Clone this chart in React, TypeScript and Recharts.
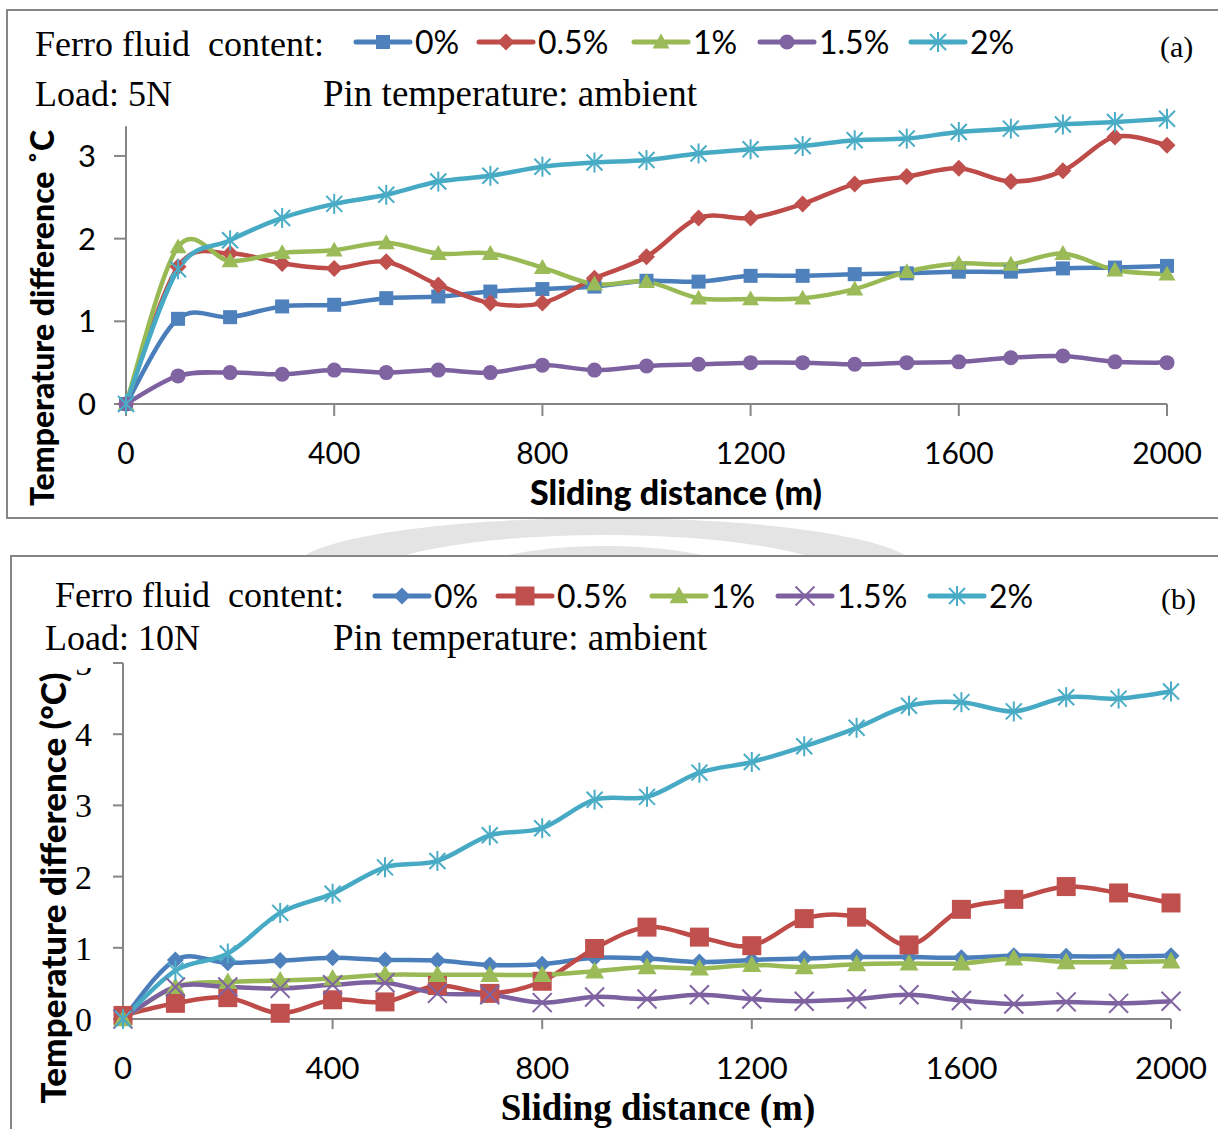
import React from 'react';
import { LineChart, Line, XAxis, YAxis, ReferenceLine } from 'recharts';

// ---------- data ----------
const distance = [0, 100, 200, 300, 400, 500, 600, 700, 800, 900, 1000, 1100, 1200, 1300, 1400, 1500, 1600, 1700, 1800, 1900, 2000];
const xTickValues = [0, 400, 800, 1200, 1600, 2000];
const yTicksA = [0, 1, 2, 3];
const yTicksB = [0, 1, 2, 3, 4, 5];
const seriesLabels = ['0%', '0.5%', '1%', '1.5%', '2%'];

// (a) Load 5N
const load5N_0 = [0, 1.03, 1.05, 1.18, 1.2, 1.28, 1.3, 1.36, 1.39, 1.42, 1.49, 1.48, 1.55, 1.55, 1.57, 1.58, 1.6, 1.6, 1.64, 1.65, 1.67];
const load5N_05 = [0, 1.66, 1.82, 1.7, 1.64, 1.72, 1.44, 1.22, 1.22, 1.52, 1.78, 2.25, 2.25, 2.42, 2.66, 2.75, 2.85, 2.69, 2.82, 3.23, 3.13];
const load5N_1 = [0, 1.9, 1.73, 1.83, 1.86, 1.95, 1.82, 1.82, 1.65, 1.45, 1.48, 1.28, 1.27, 1.28, 1.39, 1.6, 1.7, 1.69, 1.82, 1.62, 1.57];
const load5N_15 = [0, 0.34, 0.38, 0.36, 0.41, 0.38, 0.41, 0.38, 0.47, 0.41, 0.46, 0.48, 0.5, 0.5, 0.48, 0.5, 0.51, 0.56, 0.58, 0.51, 0.5];
const load5N_2 = [0, 1.63, 1.98, 2.25, 2.42, 2.53, 2.69, 2.76, 2.87, 2.92, 2.95, 3.03, 3.08, 3.12, 3.19, 3.21, 3.29, 3.33, 3.38, 3.41, 3.45];

// (b) Load 10N
const load10N_0 = [0, 0.83, 0.79, 0.82, 0.86, 0.83, 0.82, 0.76, 0.77, 0.86, 0.85, 0.8, 0.83, 0.85, 0.87, 0.87, 0.86, 0.89, 0.88, 0.88, 0.89];
const load10N_05 = [0.05, 0.22, 0.3, 0.08, 0.27, 0.24, 0.47, 0.36, 0.53, 0.99, 1.29, 1.15, 1.03, 1.41, 1.43, 1.04, 1.54, 1.68, 1.86, 1.77, 1.63];
const load10N_1 = [0, 0.45, 0.52, 0.54, 0.57, 0.62, 0.62, 0.62, 0.62, 0.67, 0.73, 0.71, 0.76, 0.73, 0.77, 0.78, 0.78, 0.85, 0.8, 0.8, 0.81];
const load10N_15 = [0, 0.45, 0.45, 0.43, 0.48, 0.51, 0.36, 0.34, 0.23, 0.31, 0.28, 0.34, 0.28, 0.25, 0.28, 0.34, 0.26, 0.21, 0.24, 0.22, 0.25];
const load10N_2 = [0, 0.68, 0.92, 1.49, 1.76, 2.13, 2.22, 2.58, 2.68, 3.08, 3.12, 3.46, 3.61, 3.83, 4.09, 4.4, 4.45, 4.32, 4.52, 4.5, 4.6];

// ---------- styles ----------
const lineColors = ['#4A7EBB', '#BE4B48', '#98B954', '#7D60A0', '#46AAC5'];
const markerColors = ['#4F81BD', '#C0504D', '#9BBB59', '#8064A2', '#4BACC6'];
const markersA = ['square', 'diamond', 'triangle', 'circle', 'star'];
const markersB = ['diamond', 'square', 'triangle', 'x', 'star'];
const markerSizeA = [14, 17, 17, 15, 20];
const markerSizeB = [17, 19, 19, 19, 20];
const AXIS = '#868686';
const SERIF = '"Liberation Serif", "Times New Roman", serif';
const SANS = 'Lato, "Open Sans", sans-serif';

function buildRows(series: number[][]) {
  return distance.map((d, i) => {
    const row: any = { x: d };
    series.forEach((s, k) => {
      row['s' + k] = s[i];
    });
    return row;
  });
}

const rowsA = buildRows([load5N_0, load5N_05, load5N_1, load5N_15, load5N_2]);
const rowsB = buildRows([load10N_0, load10N_05, load10N_1, load10N_15, load10N_2]);

// Excel-like smoothed line (Catmull-Rom through the points)
function excelCurve(context: any) {
  let pts: number[][] = [];
  return {
    areaStart() {},
    areaEnd() {},
    lineStart() {
      pts = [];
    },
    point(x: number, y: number) {
      pts.push([+x, +y]);
    },
    lineEnd() {
      if (!pts.length) return;
      context.moveTo(pts[0][0], pts[0][1]);
      for (let i = 0; i < pts.length - 1; i++) {
        const p0 = pts[i - 1] || pts[i];
        const p1 = pts[i];
        const p2 = pts[i + 1];
        const p3 = pts[i + 2] || p2;
        context.bezierCurveTo(
          p1[0] + (p2[0] - p0[0]) / 6,
          p1[1] + (p2[1] - p0[1]) / 6,
          p2[0] - (p3[0] - p1[0]) / 6,
          p2[1] - (p3[1] - p1[1]) / 6,
          p2[0],
          p2[1]
        );
      }
    },
  };
}

function Marker({ shape, cx, cy, color, size }: any) {
  if (cx == null || cy == null) return null;
  const h = size / 2;
  switch (shape) {
    case 'square':
      return <rect x={cx - h} y={cy - h} width={size} height={size} fill={color} />;
    case 'diamond':
      return <polygon points={`${cx},${cy - h} ${cx + h},${cy} ${cx},${cy + h} ${cx - h},${cy}`} fill={color} />;
    case 'triangle':
      return <polygon points={`${cx},${cy - h} ${cx + h},${cy + h * 0.75} ${cx - h},${cy + h * 0.75}`} fill={color} />;
    case 'circle':
      return <circle cx={cx} cy={cy} r={h} fill={color} />;
    case 'x':
      return (
        <g stroke={color} strokeWidth={2}>
          <line x1={cx - h} y1={cy - h} x2={cx + h} y2={cy + h} />
          <line x1={cx - h} y1={cy + h} x2={cx + h} y2={cy - h} />
        </g>
      );
    case 'star':
      return (
        <g stroke={color} strokeWidth={2}>
          <line x1={cx - h * 0.8} y1={cy - h * 0.8} x2={cx + h * 0.8} y2={cy + h * 0.8} />
          <line x1={cx - h * 0.8} y1={cy + h * 0.8} x2={cx + h * 0.8} y2={cy - h * 0.8} />
          <line x1={cx} y1={cy - h} x2={cx} y2={cy + h} />
        </g>
      );
    default:
      return null;
  }
}

function renderLines(shapes: string[], sizes: number[]) {
  return seriesLabels.map((name, k) => (
    <Line
      key={name}
      dataKey={'s' + k}
      name={name}
      type={excelCurve as any}
      stroke={lineColors[k]}
      strokeWidth={4.5}
      isAnimationActive={false}
      activeDot={false}
      dot={(p: any) => (
        <g key={`d-${k}-${p.index}`}>
          <Marker shape={shapes[k]} cx={p.cx} cy={p.cy} color={markerColors[k]} size={sizes[k]} />
        </g>
      )}
    />
  ));
}

function Legend({ lineStarts, y, shapes, sizes }: any) {
  return (
    <g>
      {seriesLabels.map((name, k) => {
        const x0 = lineStarts[k];
        return (
          <g key={name}>
            <line x1={x0} y1={y} x2={x0 + 54} y2={y} stroke={lineColors[k]} strokeWidth={5} strokeLinecap="round" />
            <Marker shape={shapes[k]} cx={x0 + 27} cy={y} color={markerColors[k]} size={sizes[k]} />
            <text x={x0 + 59} y={y + 12} fontFamily={SANS} fontSize={32} fill="#000">
              {name}
            </text>
          </g>
        );
      })}
    </g>
  );
}

// Y tick for panel (b): the top "5" is partly hidden behind the text block, as in the source
function TickB(props: any) {
  const { x, y, payload } = props;
  const clipped = payload.value === 5;
  return (
    <g>
      {clipped && (
        <defs>
          <clipPath id="clip-five">
            <rect x={x - 40} y={y + 5} width={50} height={20} />
          </clipPath>
        </defs>
      )}
      <text
        x={x}
        y={y}
        dy="0.35em"
        textAnchor="end"
        fontFamily={SERIF}
        fontSize={34}
        fill="#000"
        clipPath={clipped ? 'url(#clip-five)' : undefined}
      >
        {payload.value}
      </text>
    </g>
  );
}

export default function App() {
  const tickLine = { stroke: AXIS, strokeWidth: 2 };
  return (
    <div style={{ position: 'absolute', left: 0, top: 0, width: 1218, height: 1129, overflow: 'hidden', background: '#fff' }}>
      {/* background: frames and watermark */}
      <svg width={1218} height={1129} style={{ position: 'absolute', left: 0, top: 0 }}>
        <ellipse cx={605} cy={568} rx={310} ry={50} fill="#e4e4e4" />
        <ellipse cx={605} cy={585} rx={250} ry={50} fill="#fff" />
        <ellipse cx={605} cy={600} rx={175} ry={54} fill="#e4e4e4" />
        <rect x={7} y={10} width={1240} height={508} fill="#fff" stroke={AXIS} strokeWidth={2} />
        <rect x={11} y={556} width={1240} height={600} fill="#fff" stroke={AXIS} strokeWidth={2} />
      </svg>

      {/* chart (a) */}
      <div style={{ position: 'absolute', left: 0, top: 0 }}>
        <LineChart width={1218} height={520} data={rowsA} margin={{ top: 114.6, right: 51, bottom: 66, left: 66 }}>
          <XAxis
            dataKey="x"
            type="number"
            domain={[0, 2000]}
            ticks={xTickValues}
            interval={0}
            height={50}
            axisLine={{ stroke: AXIS, strokeWidth: 2 }}
            tickLine={tickLine}
            tickSize={12}
            tickMargin={27}
            tick={{ fill: '#000', fontSize: 30, fontFamily: SANS }}
          />
          <YAxis
            type="number"
            domain={[0, 3.5]}
            ticks={yTicksA}
            interval={0}
            width={60}
            axisLine={false}
            tickLine={tickLine}
            tickSize={12}
            tickMargin={18}
            tick={{ fill: '#000', fontSize: 31, fontFamily: SANS }}
          />
          <ReferenceLine segment={[{ x: 0, y: 0 }, { x: 0, y: 3.36 }]} stroke={AXIS} strokeWidth={2} />
          {renderLines(markersA, markerSizeA)}
        </LineChart>
      </div>

      {/* chart (b) */}
      <div style={{ position: 'absolute', left: 0, top: 540 }}>
        <LineChart width={1218} height={589} data={rowsB} margin={{ top: 123, right: 47, bottom: 60, left: 63 }}>
          <XAxis
            dataKey="x"
            type="number"
            domain={[0, 2000]}
            ticks={xTickValues}
            interval={0}
            height={50}
            axisLine={{ stroke: AXIS, strokeWidth: 2 }}
            tickLine={tickLine}
            tickSize={10}
            tickMargin={28}
            tick={{ fill: '#000', fontSize: 31, fontFamily: SANS }}
          />
          <YAxis
            type="number"
            domain={[0, 5]}
            ticks={yTicksB}
            interval={0}
            width={60}
            axisLine={{ stroke: AXIS, strokeWidth: 2 }}
            tickLine={tickLine}
            tickSize={10}
            tickMargin={21}
            tick={<TickB />}
          />
          {renderLines(markersB, markerSizeB)}
        </LineChart>
      </div>

      {/* overlay texts */}
      <svg width={1218} height={1129} style={{ position: 'absolute', left: 0, top: 0, pointerEvents: 'none' }}>
        {/* panel (a) */}
        <text x={35} y={56} fontFamily={SERIF} fontSize={36} fill="#000" style={{ whiteSpace: 'pre' }}>
          {'Ferro fluid  content:'}
        </text>
        <Legend lineStarts={[356, 479, 634, 760, 911]} y={42} shapes={markersA} sizes={markerSizeA} />
        <text x={1160} y={57} fontFamily={SERIF} fontSize={30} fill="#000">(a)</text>
        <text x={35} y={106} fontFamily={SERIF} fontSize={36} fill="#000">Load: 5N</text>
        <text x={323} y={106} fontFamily={SERIF} fontSize={37} fill="#000">Pin temperature: ambient</text>
        <text
          x={0}
          y={0}
          transform="translate(54,318) rotate(-90)"
          textAnchor="middle"
          fontFamily={SANS}
          fontWeight={900}
          fontSize={32}
          fill="#000"
          style={{ whiteSpace: 'pre' }}
        >
          {'Temperature difference \u02DAC'}
        </text>
        <text x={676} y={505} textAnchor="middle" fontFamily={SANS} fontWeight={900} fontSize={34} fill="#000">
          Sliding distance (m)
        </text>

        {/* panel (b) */}
        <text x={55} y={607} fontFamily={SERIF} fontSize={36} fill="#000" style={{ whiteSpace: 'pre' }}>
          {'Ferro fluid  content:'}
        </text>
        <Legend lineStarts={[375, 498, 652, 778, 930]} y={596} shapes={markersB} sizes={markerSizeB} />
        <text x={1161} y={609} fontFamily={SERIF} fontSize={30} fill="#000">(b)</text>
        <text x={45} y={650} fontFamily={SERIF} fontSize={36} fill="#000">Load: 10N</text>
        <text x={333} y={650} fontFamily={SERIF} fontSize={37} fill="#000">Pin temperature: ambient</text>
        <text
          x={0}
          y={0}
          transform="translate(66,888) rotate(-90)"
          textAnchor="middle"
          fontFamily={SANS}
          fontWeight={900}
          fontSize={35}
          fill="#000"
        >
          Temperature difference (°C)
        </text>
        <text x={658} y={1120} textAnchor="middle" fontFamily={SERIF} fontWeight="bold" fontSize={37} fill="#000">
          Sliding distance (m)
        </text>
      </svg>
    </div>
  );
}
